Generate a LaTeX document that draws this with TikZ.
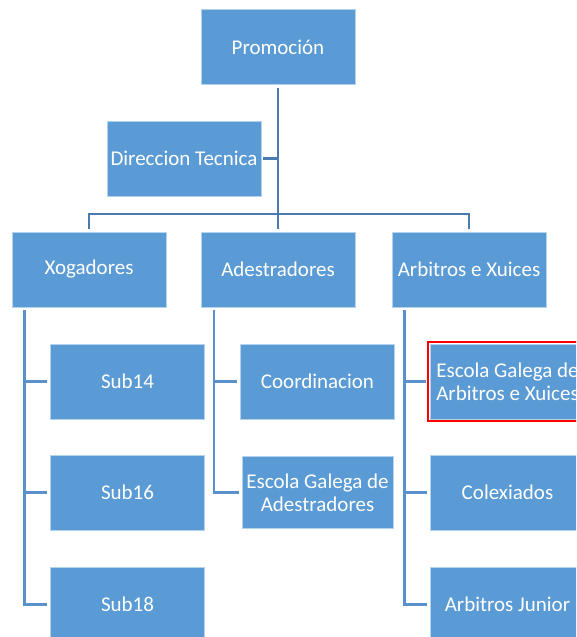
\documentclass[tikz,border=0pt]{standalone}
\usepackage{fontspec}
\setmainfont{Carlito}
\definecolor{boxblue}{HTML}{5B9BD5}
\definecolor{topblue}{HTML}{4A7BB0}
\definecolor{subblue}{HTML}{5A90CC}
\begin{document}
\begin{tikzpicture}[x=1pt,y=-1pt]
	\tikzstyle{box} = [rectangle,fill=boxblue,draw=white!55!boxblue,line width=0.8pt,minimum width=154pt,minimum height=75pt,inner sep=1pt,text=white,align=center,font=\fontsize{21}{23}\selectfont];
	\tikzstyle{topline} = [draw=topblue,line width=2.6pt];
	\tikzstyle{subline} = [draw=subblue,line width=2.6pt];
	\path[use as bounding box,clip] (0,0) rectangle (576,637);
	\node[box] (prom) at (278,47) {Promoción};
	\node[box] (dir) at (184,158.5) {Direccion Tecnica};
	\node[box] (xog) at (89,269.5) {Xogadores};
	\node[box] (ades) at (278,269.5) {Adestradores};
	\node[box] (arb) at (469,269.5) {Arbitros e Xuices};
	\node[box] (sub14) at (127.5,381.5) {Sub14};
	\node[box] (sub16) at (127.5,492.5) {Sub16};
	\node[box] (sub18) at (127.5,604.5) {Sub18};
	\node[box] (coord) at (317.5,381.5) {Coordinacion};
	\node[box,minimum width=151pt,minimum height=72pt] (escade) at (317.5,492.5) {Escola Galega de\\Adestradores};
	\node[box] (escarb) at (507.5,381.5) {Escola Galega de\\Arbitros e Xuices};
	\node[box] (colex) at (507.5,492.5) {Colexiados};
	\node[box] (junior) at (507.5,604.5) {Arbitros Junior};
	\draw[red,line width=2pt] ([shift={(-2,-2)}]escarb.north west) rectangle ([shift={(2,2)}]escarb.south east);
	\coordinate (bar) at (278,214);
	\coordinate (xogline) at ([xshift=13pt]xog.south west);
	\coordinate (adesline) at ([xshift=13.5pt]ades.south west);
	\coordinate (arbline) at ([xshift=13pt]arb.south west);
	\draw[topline,shorten <=3pt,shorten >=3pt] (prom.south) -- (ades.north);
	\draw[topline,shorten <=2pt] (dir.east) -- (dir -| prom);
	\draw[topline,shorten <=3pt,shorten >=3pt] (xog.north) |- (bar) -| (arb.north);
	\draw[subline,shorten <=3pt,shorten >=3pt] (xogline) |- (sub18.west);
	\draw[subline,shorten >=3pt] (xogline |- sub14) -- (sub14.west);
	\draw[subline,shorten >=3pt] (xogline |- sub16) -- (sub16.west);
	\draw[subline,shorten <=3pt,shorten >=3pt] (adesline) |- (escade.west);
	\draw[subline,shorten >=3pt] (adesline |- coord) -- (coord.west);
	\draw[subline,shorten <=3pt,shorten >=3pt] (arbline) |- (junior.west);
	\draw[subline,shorten >=4pt] (arbline |- escarb) -- (escarb.west);
	\draw[subline,shorten >=3pt] (arbline |- colex) -- (colex.west);
\end{tikzpicture}
\end{document}
